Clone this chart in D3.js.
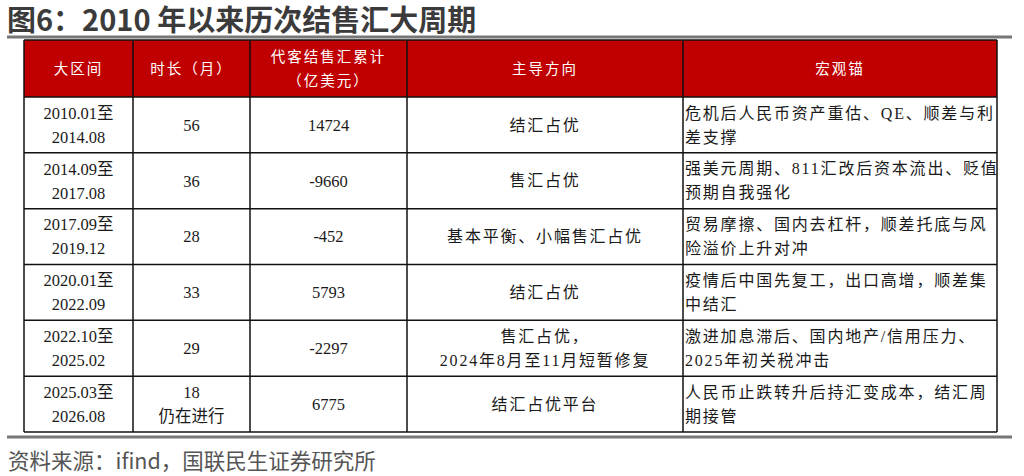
<!DOCTYPE html>
<html>
<head>
<meta charset="utf-8">
<script src="https://cdn.jsdelivr.net/npm/d3@7"></script>
<style>
  body { margin: 0; background: #fff; }
</style>
</head>
<body>
<div id="viz-container"></div>
<script>
'use strict';

// table data
const headers = [['大区间'], ['时长（月）'], ['代客结售汇累计', '（亿美元）'], ['主导方向'], ['宏观锚']];
const periodStart = ['2010.01', '2014.09', '2017.09', '2020.01', '2022.10', '2025.03'];
const periodEnd = ['2014.08', '2017.08', '2019.12', '2022.09', '2025.02', '2026.08'];
const durations = [56, 36, 28, 33, 29, 18];
const durationNotes = ['', '', '', '', '', '仍在进行'];
const totals = [14724, -9660, -452, 5793, -2297, 6775];
const directions = [
    ['结汇占优'],
    ['售汇占优'],
    ['基本平衡、小幅售汇占优'],
    ['结汇占优'],
    ['售汇占优，', '2024年8月至11月短暂修复'],
    ['结汇占优平台']
];
const anchors = [
    ['危机后人民币资产重估、QE、顺差与利', '差支撑'],
    ['强美元周期、811汇改后资本流出、贬值', '预期自我强化'],
    ['贸易摩擦、国内去杠杆，顺差托底与风', '险溢价上升对冲'],
    ['疫情后中国先复工，出口高增，顺差集', '中结汇'],
    ['激进加息滞后、国内地产/信用压力、', '2025年初关税冲击'],
    ['人民币止跌转升后持汇变成本，结汇周', '期接管']
];

const width = 1024, height = 476;
const colEdges = [24, 133, 250, 407, 683, 997];
const headTop = 40, headBottom = 97, tableBottom = 432;
const lineH = 24;
const font = '"Liberation Serif", "Noto Sans CJK SC", serif';

const svg = d3.select('#viz-container')
    .append('svg')
    .attr('width', width)
    .attr('height', height);

// title
svg.append('text')
    .attr('x', 7)
    .attr('y', 31)
    .attr('font-family', '"Noto Sans CJK SC", "Noto Sans", sans-serif')
    .attr('font-weight', 'bold')
    .attr('font-size', 29)
    .attr('fill', '#3b3b3b')
    .text('图6：2010 年以来历次结售汇大周期');

svg.append('line')
    .attr('x1', 7).attr('x2', 1012)
    .attr('y1', 37).attr('y2', 37)
    .attr('stroke', '#777').attr('stroke-width', 3);

const rowY = d3.scaleBand()
    .domain(d3.range(periodStart.length))
    .range([headBottom, tableBottom]);

// header background
svg.append('rect')
    .attr('x', colEdges[0]).attr('y', headTop)
    .attr('width', colEdges[5] - colEdges[0])
    .attr('height', headBottom - headTop)
    .attr('fill', '#c00000');

// multi-line cell helper
function cellText(lines, x, yMid, anchor, opts) {
    const t = svg.append('text')
        .attr('font-family', font)
        .attr('font-size', opts.size)
        .attr('fill', opts.fill)
        .attr('letter-spacing', opts.spacing)
        .attr('text-anchor', anchor);
    const y0 = yMid - (lines.length - 1) * lineH / 2;
    lines.forEach((s, i) => {
        t.append('tspan')
            .attr('x', x)
            .attr('y', y0 + i * lineH)
            .attr('dy', '0.35em')
            .text(s);
    });
}

headers.forEach((h, i) => {
    const cx = (colEdges[i] + colEdges[i + 1]) / 2;
    cellText(h, cx, (headTop + headBottom) / 2, 'middle', { size: 14.5, fill: '#fff', spacing: 2 });
});

const body = { size: 16.5, fill: '#1a1a1a', spacing: 0 };
const cjk = { size: 16, fill: '#1a1a1a', spacing: 1.8 };

periodStart.forEach((p, i) => {
    const yMid = rowY(i) + rowY.bandwidth() / 2;
    const mid = c => (colEdges[c] + colEdges[c + 1]) / 2;
    cellText([p + '至', periodEnd[i]], mid(0), yMid, 'middle', body);
    const dur = durationNotes[i] ? [String(durations[i]), durationNotes[i]] : [String(durations[i])];
    cellText(dur, mid(1), yMid, 'middle', body);
    cellText([String(totals[i])], mid(2), yMid, 'middle', body);
    cellText(directions[i], mid(3), yMid, 'middle', cjk);
    cellText(anchors[i], colEdges[4] + 2, yMid, 'start', cjk);
});

// grid lines
const grid = svg.append('g')
    .attr('stroke', '#111')
    .attr('stroke-width', 1.5);

grid.selectAll('line.v')
    .data(colEdges)
    .join('line')
    .attr('class', 'v')
    .attr('x1', d => d).attr('x2', d => d)
    .attr('y1', headTop).attr('y2', tableBottom);

grid.selectAll('line.h')
    .data([headTop, headBottom].concat(d3.range(periodStart.length).map(i => rowY(i) + rowY.bandwidth())))
    .join('line')
    .attr('class', 'h')
    .attr('x1', colEdges[0]).attr('x2', colEdges[5])
    .attr('y1', d => d).attr('y2', d => d);

svg.append('line')
    .attr('x1', 7).attr('x2', 1012)
    .attr('y1', 437).attr('y2', 437)
    .attr('stroke', '#777').attr('stroke-width', 3);

// source
svg.append('text')
    .attr('x', 8)
    .attr('y', 469)
    .attr('font-family', '"Noto Sans CJK SC", "Noto Sans", sans-serif')
    .attr('font-size', 21.5)
    .attr('fill', '#555')
    .text('资料来源：ifind，国联民生证券研究所');
</script>
</body>
</html>
